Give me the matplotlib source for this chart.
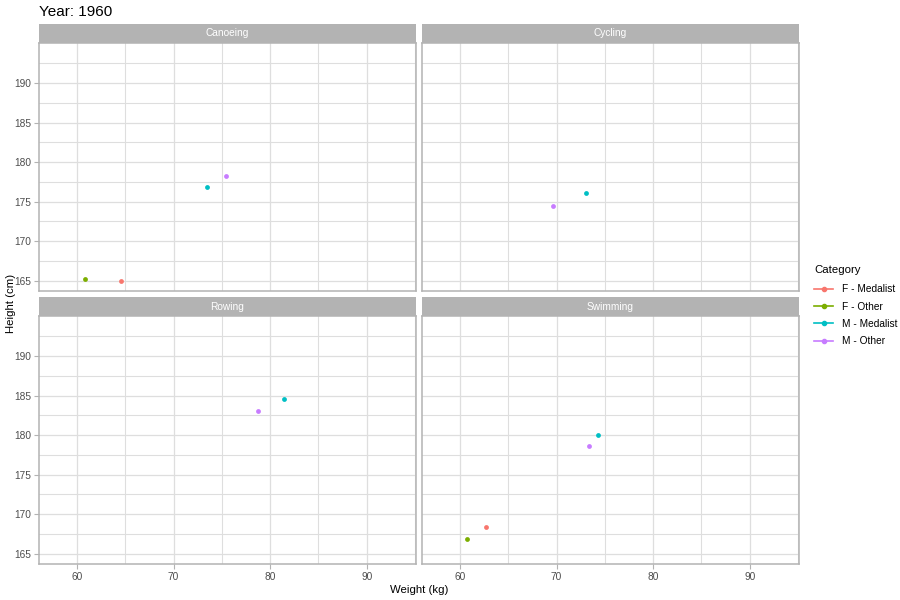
import matplotlib
matplotlib.use("Agg")
import matplotlib.pyplot as plt
from matplotlib.lines import Line2D

plt.rcParams['font.family'] = ['Liberation Sans', 'DejaVu Sans']

# categories and colours (ggplot hue palette)
categories = ["F - Medalist", "F - Other", "M - Medalist", "M - Other"]
cat_colors = ["#F8766D", "#7CAE00", "#00BFC4", "#C77CFF"]

sports = ["Canoeing", "Cycling", "Rowing", "Swimming"]

canoeing_cat = ["F - Other", "F - Medalist", "M - Medalist", "M - Other"]
canoeing_weight = [60.8, 64.6, 73.5, 75.4]
canoeing_height = [165.25, 165.0, 176.9, 178.2]

cycling_cat = ["M - Other", "M - Medalist"]
cycling_weight = [69.65, 73.0]
cycling_height = [174.5, 176.05]

rowing_cat = ["M - Other", "M - Medalist"]
rowing_weight = [78.7, 81.4]
rowing_height = [183.0, 184.5]

swimming_cat = ["F - Other", "F - Medalist", "M - Other", "M - Medalist"]
swimming_weight = [60.7, 62.7, 73.4, 74.25]
swimming_height = [166.8, 168.4, 178.6, 180.0]

x_ticks = [60, 70, 80, 90]
x_minor = [65, 75, 85, 95]
y_ticks = [165, 170, 175, 180, 185, 190]
y_minor = [167.5, 172.5, 177.5, 182.5, 187.5, 192.5]
x_lim = (56.06, 95.1)
y_lim = (163.7, 195.05)

panel_data = {
    "Canoeing": (canoeing_cat, canoeing_weight, canoeing_height),
    "Cycling": (cycling_cat, cycling_weight, cycling_height),
    "Rowing": (rowing_cat, rowing_weight, rowing_height),
    "Swimming": (swimming_cat, swimming_weight, swimming_height),
}

W, H = 900, 600
fig = plt.figure(figsize=(9, 6), dpi=100)

# panel boxes in pixels: left, top, right, bottom
boxes = {
    "Canoeing": (39, 43, 416, 291),
    "Cycling": (422, 43, 799, 291),
    "Rowing": (39, 316, 416, 564),
    "Swimming": (422, 316, 799, 564),
}
strip_h = 19
grey70 = "#B3B3B3"
grid_c = "#DEDEDE"

for i, sport in enumerate(sports):
    l, t, r, b = boxes[sport]
    ax = fig.add_axes([l / W, 1 - b / H, (r - l) / W, (b - t) / H])
    cats, wts, hts = panel_data[sport]
    for c, x, y in zip(cats, wts, hts):
        ax.scatter(x, y, s=12, color=cat_colors[categories.index(c)], zorder=3, linewidths=0)
    ax.set_xlim(*x_lim)
    ax.set_ylim(*y_lim)
    ax.set_xticks(x_ticks)
    ax.set_yticks(y_ticks)
    ax.set_xticks(x_minor, minor=True)
    ax.set_yticks(y_minor, minor=True)
    ax.grid(True, which='major', color=grid_c, linewidth=0.9, zorder=0)
    ax.grid(True, which='minor', color=grid_c, linewidth=0.8, zorder=0)
    ax.set_axisbelow(True)
    for sp in ax.spines.values():
        sp.set_color(grey70)
        sp.set_linewidth(1.1)
    ax.tick_params(which='minor', length=0)
    ax.tick_params(which='major', length=3.5, color=grey70, width=0.8,
                   labelsize=7.3, labelcolor="#4D4D4D", pad=2)
    if i % 2 == 1:
        ax.tick_params(axis='y', left=False, labelleft=False)
    if i < 2:
        ax.tick_params(axis='x', bottom=False, labelbottom=False)
    # strip
    sax = fig.add_axes([l / W, 1 - t / H, (r - l) / W, strip_h / H])
    sax.set_facecolor(grey70)
    sax.set_xticks([])
    sax.set_yticks([])
    for sp in sax.spines.values():
        sp.set_visible(False)
    sax.text(0.5, 0.5, sport, color="white", fontsize=7.3, ha='center', va='center',
             transform=sax.transAxes)

fig.text(39 / W, 1 - 12 / H, "Year: 1960", fontsize=11, ha='left', va='center', color="black")
fig.text(419 / W, 1 - 590 / H, "Weight (kg)", fontsize=8.2, ha='center', va='center')
fig.text(11 / W, 1 - 303 / H, "Height (cm)", fontsize=8.2, ha='center', va='center', rotation=90)

handles = [Line2D([0], [0], color=c, marker='o', markersize=3, linewidth=1.2) for c in cat_colors]
leg = fig.legend(handles, categories, title="Category", loc='upper left',
                 bbox_to_anchor=(805 / W, 1 - 258 / H), frameon=False,
                 fontsize=7.3, title_fontsize=8.2, handlelength=1.9,
                 labelspacing=0.72, alignment='left', handletextpad=0.8)
leg.get_title().set_position((0, 2))

fig.savefig("out.png", dpi=100)
